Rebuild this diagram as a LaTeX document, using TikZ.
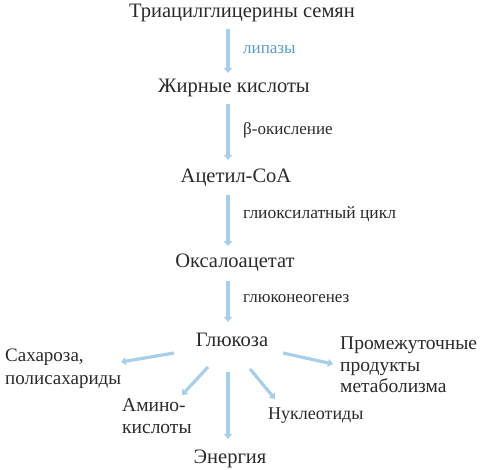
\documentclass[tikz,border=0pt]{standalone}
\usepackage{fontspec}
\setmainfont{Liberation Serif}
\usetikzlibrary{arrows.meta}
\definecolor{txt}{HTML}{2A2A2A}
\definecolor{arr}{HTML}{A9CFE8}
\definecolor{lbl}{HTML}{5A9BC8}
\begin{document}
\begin{tikzpicture}[x=1pt,y=-1pt,
  main/.style={text=txt,font=\rmfamily\fontsize{20.5}{24}\selectfont,inner sep=0pt},
  prod/.style={text=txt,font=\rmfamily\fontsize{19.5}{21.5}\selectfont,inner sep=0pt,anchor=west,align=left},
  side/.style={text=txt,font=\rmfamily\fontsize{17}{20}\selectfont,inner sep=0pt,anchor=west},
  flow/.style={draw=arr,line width=3.2pt,-{Triangle[length=5pt,width=8pt]}}]
\useasboundingbox (0,0) rectangle (480,470);
\node[main] (tag) at (242,13) {Триацилглицерины семян};
\node[main] (fa) at (234,88) {Жирные кислоты};
\node[main] (ac) at (236,178) {Ацетил-CoA};
\node[main] (oa) at (235,263) {Оксалоацетат};
\node[main] (gl) at (232,340) {Глюкоза};
\node[prod,font=\rmfamily\fontsize{19}{23}\selectfont] (sa) at (5,369) {Сахароза,\\полисахариды};
\node[prod,font=\rmfamily\fontsize{19.5}{22}\selectfont] (am) at (122,416) {Амино-\\кислоты};
\node[main] (en) at (230,459) {Энергия};
\node[prod,font=\rmfamily\fontsize{18}{21}\selectfont] (nu) at (268,416) {Нуклеотиды};
\node[prod] (pr) at (340,365) {Промежуточные\\продукты\\метаболизма};
\node[side,text=lbl] (l1) at (243,50) {липазы};
\node[side] (l2) at (243,130) {β-окисление};
\node[side,font=\rmfamily\fontsize{17.5}{20}\selectfont] (l3) at (243,214) {глиоксилатный цикл};
\node[side] (l4) at (243,299) {глюконеогенез};
\coordinate (a1s) at (228,29); \coordinate (a1e) at (228,73);
\coordinate (a2s) at (228,104); \coordinate (a2e) at (228,160);
\coordinate (a3s) at (228,195); \coordinate (a3e) at (228,246);
\coordinate (a4s) at (228,281); \coordinate (a4e) at (228,322);
\draw[flow] (a1s) -- (a1e);
\draw[flow] (a2s) -- (a2e);
\draw[flow] (a3s) -- (a3e);
\draw[flow] (a4s) -- (a4e);
\coordinate (g1) at (174,353); \coordinate (e1) at (121,362);
\coordinate (g2) at (208,367); \coordinate (e2) at (182,395);
\coordinate (g3) at (228,372); \coordinate (e3) at (228,439);
\coordinate (g4) at (250,369); \coordinate (e4) at (275,399);
\coordinate (g5) at (283,353); \coordinate (e5) at (333,364);
\draw[flow] (g1) -- (e1);
\draw[flow] (g2) -- (e2);
\draw[flow] (g3) -- (e3);
\draw[flow] (g4) -- (e4);
\draw[flow] (g5) -- (e5);
\end{tikzpicture}
\end{document}
